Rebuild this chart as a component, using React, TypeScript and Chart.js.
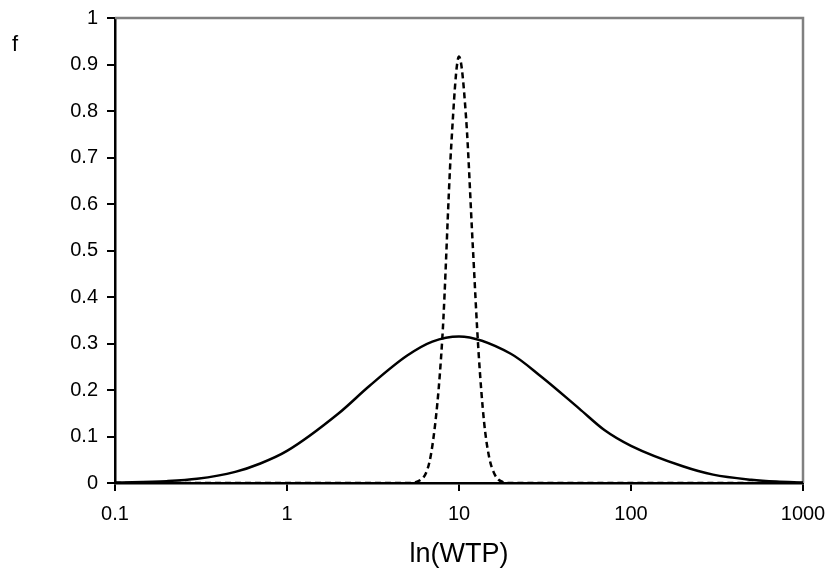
import React, { useEffect, useRef } from "react";
import { Chart, registerables } from "chart.js";

Chart.register(...registerables);

// Solid curve (wide distribution)
const solidX = [0.1, 0.2, 0.3, 0.5, 0.7, 1, 2, 3, 5, 7, 10, 20, 30, 50, 70, 100, 200, 300, 500, 700, 1000];
const solidY = [0.001, 0.004, 0.009, 0.024, 0.042, 0.069, 0.15, 0.208, 0.274, 0.304, 0.315, 0.278, 0.229, 0.16, 0.114, 0.08, 0.036, 0.018, 0.007, 0.003, 0.001];

// Dashed curve (narrow distribution)
const dashX = [0.1, 1, 5, 6, 7, 8, 9, 10, 11, 12, 13, 14, 15, 16, 17, 18, 20, 100, 1000];
const dashY = [0, 0, 0, 0.007, 0.08, 0.312, 0.721, 0.917, 0.784, 0.517, 0.28, 0.13, 0.054, 0.021, 0.007, 0.002, 0, 0, 0];

const xTicks = [0.1, 1, 10, 100, 1000];
const yTicks = [0, 0.1, 0.2, 0.3, 0.4, 0.5, 0.6, 0.7, 0.8, 0.9, 1];

const xTitle = "ln(WTP)";
const yTitle = "f";

const FONT = "'Liberation Sans', Arial, sans-serif";

export default function App() {
  const ref = useRef<HTMLCanvasElement | null>(null);

  useEffect(() => {
    if (!ref.current) return;
    const framePlugin = {
      id: "frame",
      beforeDatasetsDraw(chart: any) {
        const { ctx, chartArea } = chart;
        ctx.save();
        ctx.strokeStyle = "#808080";
        ctx.lineWidth = 2.5;
        ctx.beginPath();
        ctx.moveTo(chartArea.left, chartArea.top);
        ctx.lineTo(chartArea.right, chartArea.top);
        ctx.lineTo(chartArea.right, chartArea.bottom);
        ctx.stroke();
        ctx.restore();
      },
      afterDraw(chart: any) {
        const { ctx } = chart;
        ctx.save();
        ctx.fillStyle = "#000";
        ctx.font = `22px ${FONT}`;
        ctx.textBaseline = "alphabetic";
        ctx.textAlign = "left";
        ctx.fillText(yTitle, 12, 50.5);
        ctx.restore();
      },
    };

    const chart = new Chart(ref.current, {
      type: "line",
      data: {
        datasets: [
          {
            data: solidX.map((x, i) => ({ x, y: solidY[i] })),
            borderColor: "#000",
            borderWidth: 2.5,
            pointRadius: 0,
            cubicInterpolationMode: "monotone",
            fill: false,
          },
          {
            data: dashX.map((x, i) => ({ x, y: dashY[i] })),
            borderColor: "#000",
            borderWidth: 2.5,
            borderDash: [6, 4],
            pointRadius: 0,
            cubicInterpolationMode: "monotone",
            fill: false,
          },
        ],
      },
      options: {
        animation: false,
        responsive: false,
        layout: { padding: { left: 0, right: 26, top: 18, bottom: 0 } },
        plugins: {
          legend: { display: false },
          tooltip: { enabled: false },
        },
        scales: {
          x: {
            type: "logarithmic",
            min: 0.1,
            max: 1000,
            afterBuildTicks: (axis: any) => {
              axis.ticks = xTicks.map((v) => ({ value: v }));
            },
            afterFit: (axis: any) => {
              axis.height = 91;
              axis.paddingLeft = 0;
              axis.paddingRight = 0;
            },
            border: { display: true, color: "#000", width: 2.5 },
            grid: {
              display: true,
              drawOnChartArea: false,
              drawTicks: true,
              tickLength: 8,
              color: "#000",
              lineWidth: 2,
            },
            ticks: {
              autoSkip: false,
              maxRotation: 0,
              padding: 11,
              color: "#000",
              font: { family: FONT, size: 20 },
              callback: (v: any) => String(v),
            },
            title: {
              display: true,
              text: xTitle,
              color: "#000",
              font: { family: FONT, size: 27 },
              padding: { top: 0, bottom: 3 },
            },
          },
          y: {
            type: "linear",
            min: 0,
            max: 1,
            afterBuildTicks: (axis: any) => {
              axis.ticks = yTicks.map((v) => ({ value: v }));
            },
            afterFit: (axis: any) => {
              axis.width = 115;
              axis.paddingTop = 0;
              axis.paddingBottom = 0;
            },
            border: { display: true, color: "#000", width: 2.5 },
            grid: {
              display: true,
              drawOnChartArea: false,
              drawTicks: true,
              tickLength: 8,
              color: "#000",
              lineWidth: 2,
            },
            ticks: {
              autoSkip: false,
              padding: 9,
              color: "#000",
              font: { family: FONT, size: 20 },
              callback: (v: any) => String(Math.round(v * 10) / 10),
            },
          },
        },
      },
      plugins: [framePlugin],
    });
    return () => chart.destroy();
  }, []);

  return (
    <div style={{ position: "absolute", left: 0, top: 0, width: 829, height: 574, background: "#fff" }}>
      <canvas ref={ref} width={829} height={574} style={{ display: "block" }} />
    </div>
  );
}
